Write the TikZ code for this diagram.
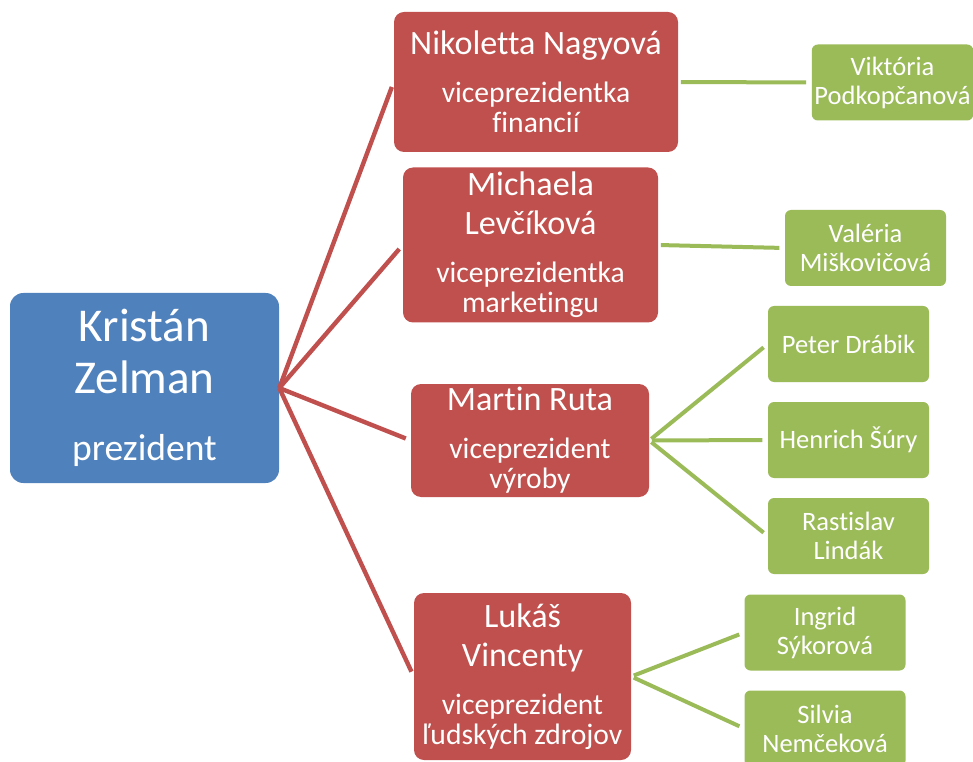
\documentclass[tikz,border=0pt]{standalone}
\usepackage{fontspec}
\setmainfont[Ligatures=NoCommon]{Carlito}
\usepackage{tikz}
\usetikzlibrary{positioning}

\definecolor{bossblue}{HTML}{4F81BD}
\definecolor{vpred}{HTML}{C0504D}
\definecolor{staffgreen}{HTML}{9BBB59}

\newcommand{\vpname}{\fontsize{25.6}{29.25}\selectfont}
\newcommand{\bossrole}{\fontsize{28.2}{30}\selectfont}

\begin{document}
\begin{tikzpicture}[%
    x=0.75pt,
    y=-0.75pt,
    node distance=72pt,
    shorten >=4pt,
    boss/.style={fill=bossblue, text=white, rounded corners=10pt,
      align=center, inner sep=2pt,
      font=\fontsize{35.3}{39}\selectfont},
    vp/.style={fill=vpred, text=white, rounded corners=7.5pt,
      align=center, inner sep=2pt,
      font=\fontsize{22.2}{22.5}\selectfont},
    staff/.style={fill=staffgreen, text=white, rounded corners=4.5pt,
      align=center, inner sep=2pt,
      minimum width=120.75pt, minimum height=57pt,
      font=\fontsize{19.9}{21.75}\selectfont},
    vpline/.style={draw=vpred, line width=3.3pt},
    staffline/.style={draw=staffgreen, line width=3pt, shorten <=2pt},
  ]
    \useasboundingbox (0,0) rectangle (973,762);

    \node[boss, minimum width=201.75pt, minimum height=142.5pt] (pres) at (144.5,388)
      {Kristán\\Zelman\\[11pt]{\bossrole prezident}};

    \node[vp, minimum width=213pt, minimum height=105pt] (nagy) at (536,82)
      {{\vpname Nikoletta Nagyová}\\[13.5pt]viceprezidentka\\financií};
    \node[vp, minimum width=191.25pt, minimum height=116.25pt] (levc) at (530.5,245)
      {{\vpname Michaela}\\[6.75pt]{\vpname Levčíková}\\[13.5pt]viceprezidentka\\marketingu};
    \node[vp, minimum width=178.5pt, minimum height=84.75pt] (ruta) at (530,440.5)
      {{\vpname Martin Ruta}\\[13.5pt]viceprezident\\výroby};
    \node[vp, minimum width=162.75pt, minimum height=125.25pt] (vinc) at (522.5,676.5)
      {{\vpname Lukáš}\\[6.75pt]{\vpname Vincenty}\\[13.5pt]viceprezident\\ľudských zdrojov};

    \node[staff] (podk) at (892.5,82.5) {Viktória\\Podkopčanová};
    \node[staff] (misk) at (865.5,248) {Valéria\\Miškovičová};
    \node[staff] (drab) at (848.5,344) {Peter Drábik};
    \node[staff] (sury) [below of=drab] {Henrich Šúry};
    \node[staff] (lind) [below of=sury] {Rastislav\\Lindák};
    \node[staff] (syko) at (825,632.5) {Ingrid\\Sýkorová};
    \node[staff] (nemc) [below of=syko] {Silvia\\Nemčeková};

    \path[vpline]
    (pres.east) edge (nagy.west)
    (pres.east) edge (levc.west)
    (pres.east) edge (ruta.west)
    (pres.east) edge (vinc.west)
    ;

    \path[staffline]
    (nagy.east) edge (podk.west)
    (levc.east) edge (misk.west)
    (ruta.east) edge (drab.west)
    (ruta.east) edge (sury.west)
    (ruta.east) edge (lind.west)
    (vinc.east) edge (syko.west)
    (vinc.east) edge (nemc.west)
    ;
  \end{tikzpicture}
\end{document}
